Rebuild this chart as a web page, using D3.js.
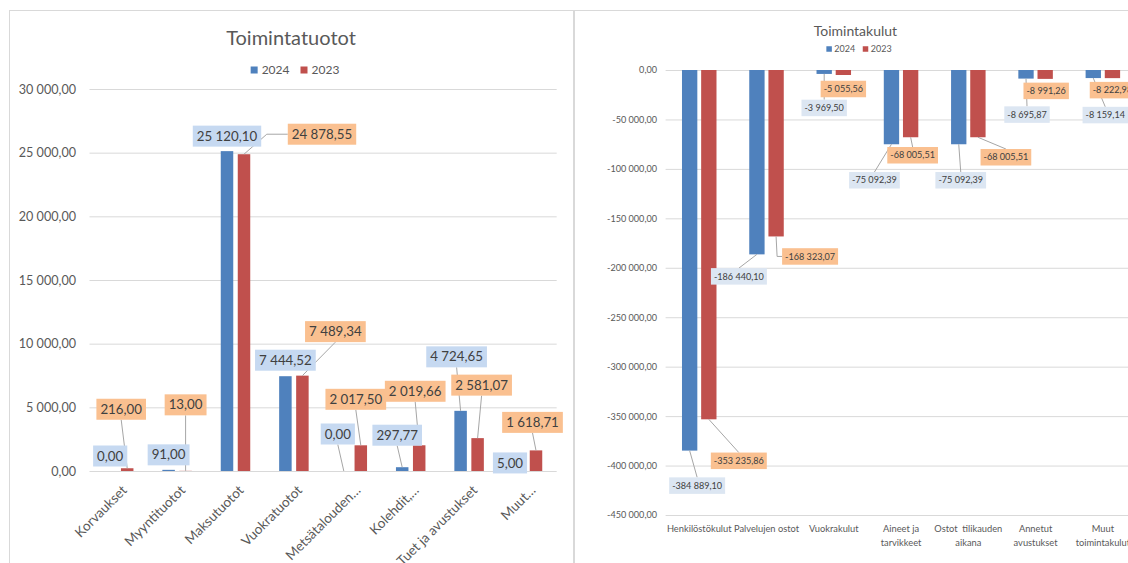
<!DOCTYPE html>
<html>
<head>
<meta charset="utf-8">
<script src="https://cdn.jsdelivr.net/npm/d3@7"></script>
<style>
  body { margin: 0; background: #fff; }
  svg { display: block; }
</style>
</head>
<body>
<div id="chart"></div>
<script>
// --- data ---
const seriesNames = ['2024', '2023']

const incomeCategories = ['Korvaukset', 'Myyntituotot', 'Maksutuotot', 'Vuokratuotot',
    'Metsätalouden…', 'Kolehdit,…', 'Tuet ja avustukset', 'Muut…']
const income2024 = [0.00, 91.00, 25120.10, 7444.52, 0.00, 297.77, 4724.65, 5.00]
const income2023 = [216.00, 13.00, 24878.55, 7489.34, 2017.50, 2019.66, 2581.07, 1618.71]
const incomeTicks = [0, 5000, 10000, 15000, 20000, 25000, 30000]

const expenseCategories = ['Henkilöstökulut', 'Palvelujen ostot', 'Vuokrakulut', 'Aineet ja tarvikkeet',
    'Ostot  tilikauden aikana', 'Annetut avustukset', 'Muut toimintakulut']
const expense2024 = [-384889.10, -186440.10, -3969.50, -75092.39, -75092.39, -8695.87, -8159.14]
const expense2023 = [-353235.86, -168323.07, -5055.56, -68005.51, -68005.51, -8991.26, -8222.98]
const expenseTicks = [0, -50000, -100000, -150000, -200000, -250000, -300000, -350000, -400000, -450000]

// where the data labels were dragged to: box centre offset from bar end (px), [dx, dy, attach, stub]
const incomeLabelPos2024 = [[0, -15], [0, -15], [0, -15], [0, -16], [-6, -37], [-5, -32], [-4, -54], [-9, -8]]
const incomeLabelPos2023 = [[-6, -59], [0, -66], [78, -20, 'h', 21], [33, -44], [-5, -46], [-4, -54], [4, -53], [-3.5, -28]]
const expenseLabelPos2024 = [[7.5, 35], [-18, 22], [0, 34], [-17, 36], [2, 36], [1, 36], [12, 37]]
const expenseLabelPos2023 = [[30, 41.5], [34, 20, 'h', 5], [0, 14], [2, 18], [28, 20], [1, 12], [0, 12]]

const FONT = "Lato, 'Open Sans', sans-serif"
const barColors = ['#4f81bd', '#c0504d']

const fi = d3.formatLocale({decimal: ',', thousands: '\u00a0', grouping: [3], currency: ['', ''], minus: '-'})
const fmt = fi.format(',.2f')

const svg = d3.select('#chart').append('svg')
    .attr('width', 1128)
    .attr('height', 563)
    .style('font-family', FONT)

svg.append('rect').attr('width', 1128).attr('height', 563).attr('fill', '#fff')

// panel borders
svg.append('rect')
    .attr('x', 9.5).attr('y', 10.5).attr('width', 564).attr('height', 600)
    .attr('fill', 'none').attr('stroke', '#d9d9d9')
svg.append('rect')
    .attr('x', 574.5).attr('y', 10.5).attr('width', 600).attr('height', 600)
    .attr('fill', 'none').attr('stroke', '#d9d9d9')

function drawChart(c) {
    const g = svg.append('g')

    const x = d3.scaleBand()
        .domain(c.categories)
        .range([c.left, c.right])
        .paddingInner(c.bandPad)
        .paddingOuter(c.bandPad / 2)
    const xSub = d3.scaleBand()
        .domain(seriesNames)
        .range([0, x.bandwidth()])
        .paddingInner(c.subPad)
    const y = d3.scaleLinear()
        .domain(c.domain)
        .range([c.bottom, c.top])

    // gridlines and value axis
    const axis = g.append('g')
        .attr('transform', `translate(${c.left},0)`)
        .call(d3.axisLeft(y)
            .tickValues(c.ticks)
            .tickFormat(fmt)
            .tickSize(-(c.gridRight - c.left))
            .tickPadding(c.left - c.tickX))
    axis.attr('font-family', FONT).attr('font-size', c.tickFont)
    axis.select('.domain').remove()
    axis.selectAll('.tick line').attr('stroke', '#d9d9d9')
    axis.selectAll('.tick text').attr('fill', '#595959')

    // bars
    seriesNames.forEach((name, s) => {
        g.append('g')
            .selectAll('rect')
            .data(c.values[s])
            .join('rect')
            .attr('x', (d, i) => x(c.categories[i]) + xSub(name))
            .attr('y', d => Math.min(y(d), y(0)))
            .attr('width', xSub.bandwidth())
            .attr('height', d => Math.abs(y(d) - y(0)))
            .attr('fill', barColors[s])
    })

    // data labels with leader lines
    const leaderLayer = g.append('g')
    const labelLayer = g.append('g')
    seriesNames.forEach((name, s) => {
        c.values[s].forEach((v, i) => {
            const bx = x(c.categories[i]) + xSub(name) + xSub.bandwidth() / 2
            const by = y(v)
            const [dx, dy, mode, stub] = c.labelPos[s][i]
            const cx = bx + dx, cy = by + dy
            const lg = labelLayer.append('g')
            const t = lg.append('text')
                .attr('x', cx)
                .attr('y', cy)
                .attr('dy', '0.35em')
                .attr('text-anchor', 'middle')
                .attr('font-size', c.labelFont)
                .attr('fill', '#404040')
                .text(fmt(v))
            const w = t.node().getComputedTextLength() + 2 * c.boxPad
            const h = c.boxH
            lg.insert('rect', 'text')
                .attr('x', cx - w / 2).attr('y', cy - h / 2)
                .attr('width', w).attr('height', h)
                .attr('fill', c.boxColors[s])

            const L = cx - w / 2, R = cx + w / 2, T = cy - h / 2, B = cy + h / 2
            let pts = null
            if (mode === 'h') {
                const sx = bx < L ? L : R
                const dir = bx < L ? -1 : 1
                pts = [[sx, cy], [sx + dir * stub, cy], [bx, by]]
            } else if (by > B + 8) {
                pts = [[cx, B], [bx, by]]
            } else if (by < T - 8) {
                pts = [[cx, T], [bx, by]]
            }
            if (pts) {
                leaderLayer.append('path')
                    .attr('d', d3.line()(pts))
                    .attr('fill', 'none')
                    .attr('stroke', '#a6a6a6')
                    .attr('stroke-width', 1)
            }
        })
    })

    // category labels
    if (c.rotateCats) {
        g.append('g')
            .selectAll('text')
            .data(c.categories)
            .join('text')
            .attr('transform', d => `translate(${x(d) + x.bandwidth() / 2 + 9},${c.catY}) rotate(-45)`)
            .attr('text-anchor', 'end')
            .attr('font-size', c.catFont)
            .attr('fill', '#595959')
            .text(d => d)
    } else {
        const cg = g.append('g')
        const wrapWidth = x.step() * 1.1
        c.categories.forEach(cat => {
            const t = cg.append('text')
                .attr('text-anchor', 'middle')
                .attr('font-size', c.catFont)
                .attr('fill', '#595959')
                .style('white-space', 'pre')
            // word wrap to roughly the band step
            const words = cat.split(' ')
            const lines = []
            let line = ''
            const probe = cg.append('text').attr('font-size', c.catFont).style('white-space', 'pre')
            words.forEach(wd => {
                const trial = line === '' ? wd : line + ' ' + wd
                probe.text(trial)
                if (wd !== '' && probe.node().getComputedTextLength() > wrapWidth && line.trim() !== '') {
                    lines.push(line)
                    line = wd
                } else {
                    line = trial
                }
            })
            lines.push(line)
            probe.remove()
            lines.forEach((ln, k) => {
                t.append('tspan')
                    .attr('x', x(cat) + x.bandwidth() / 2)
                    .attr('y', c.catY + k * c.catLine)
                    .text(ln.trim())
            })
        })
    }

    // title
    g.append('text')
        .attr('x', c.titleX)
        .attr('y', c.titleY)
        .attr('text-anchor', 'middle')
        .attr('font-size', c.titleFont)
        .attr('fill', '#595959')
        .text(c.title)

    // legend
    const leg = g.append('g')
    let lx = 0
    seriesNames.forEach((name, s) => {
        leg.append('rect')
            .attr('x', lx).attr('y', c.legendY - c.legendSq / 2)
            .attr('width', c.legendSq).attr('height', c.legendSq)
            .attr('fill', barColors[s])
        const t = leg.append('text')
            .attr('x', lx + c.legendSq + c.legendGap)
            .attr('y', c.legendY)
            .attr('dy', '0.35em')
            .attr('font-size', c.legendFont)
            .attr('fill', '#595959')
            .text(name)
        lx += c.legendSq + c.legendGap + t.node().getComputedTextLength() + c.legendSpace
    })
    const legW = lx - c.legendSpace
    leg.attr('transform', `translate(${c.legendCX - legW / 2},0)`)
}

drawChart({
    categories: incomeCategories,
    values: [income2024, income2023],
    labelPos: [incomeLabelPos2024, incomeLabelPos2023],
    ticks: incomeTicks,
    domain: [0, 30000],
    left: 89.5, right: 556.7, gridRight: 556.7, top: 89, bottom: 471,
    bandPad: 0.495, subPad: 0.265,
    tickX: 76, tickFont: 12.6,
    labelFont: 13.3, boxPad: 4, boxH: 21,
    boxColors: ['#c6d9f1', '#fac090'],
    rotateCats: true, catY: 491, catFont: 13.5,
    title: 'Toimintatuotot', titleX: 291, titleY: 45, titleFont: 20,
    legendCX: 295, legendY: 70, legendSq: 7, legendGap: 4, legendSpace: 11, legendFont: 12
})

drawChart({
    categories: expenseCategories,
    values: [expense2024, expense2023],
    labelPos: [expenseLabelPos2024, expenseLabelPos2023],
    ticks: expenseTicks,
    domain: [-450000, 0],
    left: 665.6, right: 1136.5, gridRight: 1136.5, top: 70, bottom: 515,
    bandPad: 0.487, subPad: 0.2,
    tickX: 657, tickFont: 9.1,
    labelFont: 9.1, boxPad: 3, boxH: 16.5,
    boxColors: ['#dce6f2', '#fac090'],
    rotateCats: false, catY: 532.3, catLine: 13.7, catFont: 9.3,
    title: 'Toimintakulut', titleX: 855.4, titleY: 36, titleFont: 14,
    legendCX: 859, legendY: 49, legendSq: 5.5, legendGap: 2.5, legendSpace: 7.5, legendFont: 9
})
</script>
</body>
</html>
